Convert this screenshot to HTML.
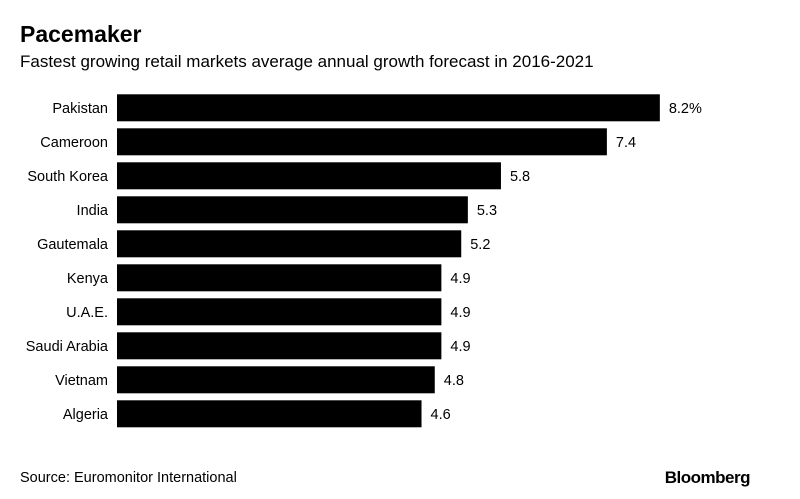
<!DOCTYPE html>
<html><head><meta charset="utf-8"><style>
body{margin:0;background:#fff;font-family:"Liberation Sans",Arial,sans-serif}
svg{display:block}
</style></head><body>
<svg id="chart" width="800" height="499">
<text x="20" y="42" font-size="23" font-weight="bold" fill="#000">Pacemaker</text>
<text x="20" y="67" font-size="17" fill="#000">Fastest growing retail markets average annual growth forecast in 2016-2021</text>
<g id="bars"></g>
<text x="20" y="482" font-size="14.5" fill="#000">Source: Euromonitor International</text>
<text x="750" y="483" font-size="17" font-weight="bold" text-anchor="end" fill="#000" letter-spacing="-0.5">Bloomberg</text>
</svg>
<script>
const categories=["Pakistan","Cameroon","South Korea","India","Gautemala","Kenya","U.A.E.","Saudi Arabia","Vietnam","Algeria"];
const values=[8.2,7.4,5.8,5.3,5.2,4.9,4.9,4.9,4.8,4.6];
const valueLabels=["8.2%","7.4","5.8","5.3","5.2","4.9","4.9","4.9","4.8","4.6"];
const NS="http://www.w3.org/2000/svg";
const x0=117,pxPerUnit=66.2,top0=94.3,pitch=34,bh=27;
const xScale=v=>x0+v*pxPerUnit;
const yScale=i=>top0+i*pitch;
const g=document.getElementById('bars');
categories.forEach((c,i)=>{
  const y=yScale(i);
  const r=document.createElementNS(NS,'rect');
  r.setAttribute('x',x0);r.setAttribute('y',y);
  r.setAttribute('width',xScale(values[i])-x0);r.setAttribute('height',bh);
  r.setAttribute('fill','#000');
  
  
  g.appendChild(r);
  const t=document.createElementNS(NS,'text');
  t.setAttribute('x',108);t.setAttribute('y',y+bh/2+5);
  t.setAttribute('text-anchor','end');t.setAttribute('font-size','14.5');
  t.textContent=c;
  
  
  g.appendChild(t);
  const v=document.createElementNS(NS,'text');
  v.setAttribute('x',xScale(values[i])+9);v.setAttribute('y',y+bh/2+5);
  v.setAttribute('font-size','14.5');
  v.textContent=valueLabels[i];
  
  
  g.appendChild(v);
});
</script>
</body></html>
